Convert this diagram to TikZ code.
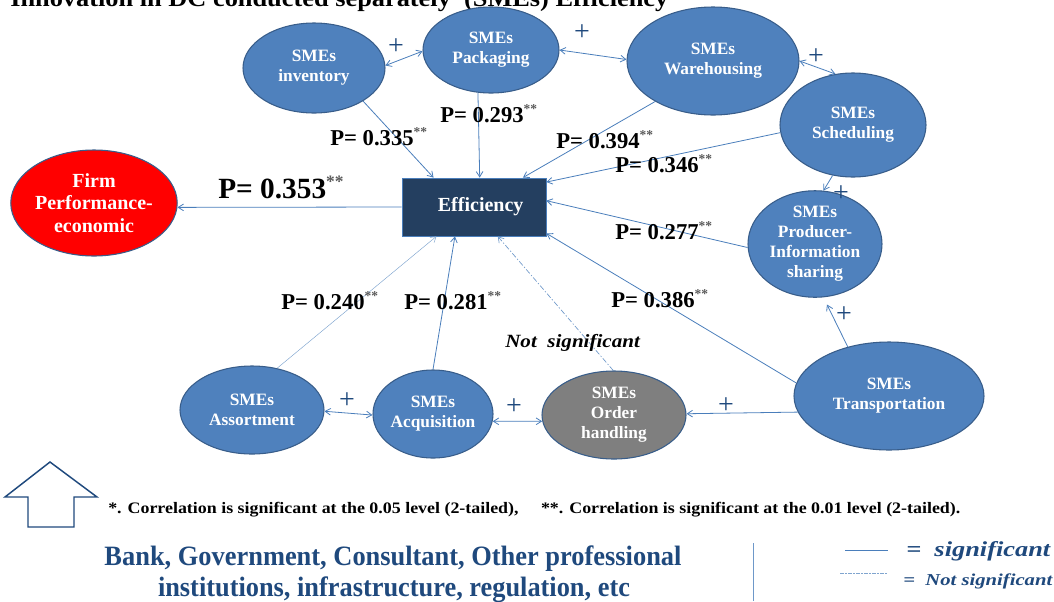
\documentclass[tikz,border=0pt]{standalone}
\usepackage{fontspec}
\setmainfont{Liberation Serif}
\usepackage{graphicx}
\usetikzlibrary{shapes.geometric,arrows.meta}
\definecolor{smefill}{RGB}{79,129,189}
\definecolor{smeedge}{RGB}{56,93,138}
\definecolor{effill}{RGB}{36,63,96}
\definecolor{linkblue}{RGB}{74,126,187}
\definecolor{darkblue}{RGB}{31,73,125}
\definecolor{orderfill}{RGB}{127,127,127}
\newcommand\stars{\textsuperscript{\color{black!65}\scalebox{0.85}{**}}}
\newcommand\fitw[2]{\resizebox{#1}{\height}{#2}}
\begin{document}
\begin{tikzpicture}[x=0.75pt,y=-0.75pt,
  sme/.style={ellipse, draw=smeedge, line width=0.8pt, fill=smefill, text=white,
    font=\bfseries\fontsize{13}{15}\selectfont, align=center, inner sep=0pt},
  sz/.style n args={2}{minimum width=#1*1.5pt, minimum height=#2*1.5pt},
  link/.style={draw=linkblue, line width=0.6pt, -{Straight Barb[length=4pt,width=5pt]}},
  both/.style={draw=linkblue, line width=0.6pt, {Straight Barb[length=4pt,width=5pt]}-{Straight Barb[length=4pt,width=5pt]}},
  pval/.style={anchor=base west, inner sep=0pt, font=\bfseries\fontsize{17}{20}\selectfont},
  plus/.style={text=darkblue, font=\fontsize{21}{21}\selectfont, inner sep=0pt}
]
\useasboundingbox (0,0) rectangle (1054,601);

% heading, cut by the top edge
\node[anchor=base west, inner sep=0pt, font=\bfseries\fontsize{18}{20}\selectfont] (title) at (10,6)
  {\fitw{493.5pt}{Innovation in DC conducted separately\ \ (SMEs) Efficiency}};

% driver nodes
\node[sme, sz={71}{45}] (inv) at (314,68) {SMEs\\inventory};
\node[sme, sz={68}{43}] (pack) at (491,50) {SMEs\\Packaging};
\node[sme, sz={86}{54}] (ware) at (713,61) {SMEs\\Warehousing};
\node[sme, sz={73}{52}] (sched) at (853,125) {SMEs\\Scheduling};
\node[sme, sz={67}{44}] (prod) at (815,244) {SMEs\\Producer-\\Information\\sharing};
\node[sme, sz={95}{54}] (trans) at (889,396) {SMEs\\Transportation};
\node[sme, sz={72}{44}, fill=orderfill] (order) at (614,415) {SMEs\\Order\\handling};
\node[sme, sz={60}{44}] (acq) at (433,414) {SMEs\\Acquisition};
\node[sme, sz={72}{44}] (assort) at (252,410) {SMEs\\Assortment};

% outcome nodes
\node[rectangle, draw=linkblue, line width=0.6pt, fill=effill, text=white,
  minimum width=108pt, minimum height=43.5pt, inner sep=0pt,
  font=\bfseries\fontsize{15}{17}\selectfont] (eff) at (474,207) {\hspace*{10pt}Efficiency};
\node[ellipse, draw=smeedge, line width=0.8pt, fill=red, text=white, align=center, inner sep=0pt,
  sz={81}{53}, font=\bfseries\fontsize{15}{17}\selectfont] (firm) at (94,203) {Firm\\Performance-\\economic};

% links between drivers
\draw[both] (inv.2.5) -- (pack.181);
\draw[both] (pack.0) -- (ware.179);
\draw[both] (ware.0) -- (sched.109);
\draw[link] (sched.-112) -- (prod.81);
\draw[link, shorten >=6pt] (trans.130) -- (prod.-81);
\draw[link] (trans.-170) -- (order.1);
\draw[both] (order.-175) -- (acq.-7);
\draw[both] (acq.181) -- (assort.-1);

\node[plus] (q1) at (396,47) {+};
\node[plus] (q2) at (582,33) {+};
\node[plus] (q3) at (816,57) {+};
\node[plus] (q4) at (841,194) {+};
\node[plus] (q5) at (844,315) {+};
\node[plus] (q6) at (726,406) {+};
\node[plus] (q7) at (514,407) {+};
\node[plus] (q8) at (347,401) {+};

% paths into Efficiency
\draw[link] (inv.-34) -- (eff.144.5);
\draw[link] (pack.-107) -- (eff.79);
\draw[link] (ware.-145) -- (eff.31);
\draw[link] (sched.-174) -- (eff.19);
\draw[link] (prod.-177) -- (eff.5.6);
\draw[link] (trans.172) -- (eff.-20.6);
\draw[link, draw=linkblue!80, line width=0.5pt, dash pattern=on 4pt off 1.5pt on 1pt off 1.5pt] (order.91) -- (eff.-51.6);
\draw[link] (acq.90) -- (eff.-123);
\draw[link, draw=linkblue!70, line width=0.35pt] (assort.59) -- (eff.-142.7);
\draw[link] (eff.west) -- (firm.-3);

% coefficients
\node[pval] (l335) at (330,145) {P= 0.335\stars};
\node[pval] (l293) at (440,122) {P= 0.293\stars};
\node[pval] (l394) at (556,148) {P= 0.394\stars};
\node[pval] (l346) at (615,172) {P= 0.346\stars};
\node[pval] (l277) at (615,239) {P= 0.277\stars};
\node[pval] (l386) at (611,307) {P= 0.386\stars};
\node[pval] (l240) at (281,309) {P= 0.240\stars};
\node[pval] (l281) at (404,309) {P= 0.281\stars};
\node[pval, font=\bfseries\fontsize{22}{24}\selectfont] (l353) at (218,198) {P= 0.353\stars};
\node[anchor=base west, inner sep=0pt, font=\bfseries\itshape\fontsize{14}{16}\selectfont] (ns) at (505,347)
  {\fitw{101pt}{Not\ \ significant}};

% support arrow and footnote
\draw[darkblue, line width=1.1pt, fill=white, line join=miter]
  (50,462) -- (97,497) -- (74,497) -- (74,527) -- (28,527) -- (28,497) -- (5,497) -- cycle;
\node[anchor=base west, inner sep=0pt, font=\bfseries\fontsize{12}{14}\selectfont] (note) at (108,513)
  {\fitw{639pt}{*. Correlation is significant at the 0.05 level (2-tailed),\quad\ **. Correlation is significant at the 0.01 level (2-tailed).}};

\node[anchor=base, inner sep=0pt, text=darkblue, font=\bfseries\fontsize{21}{24}\selectfont] (bank1) at (393,565)
  {\fitw{432.75pt}{Bank, Government, Consultant, Other professional}};
\node[anchor=base, inner sep=0pt, text=darkblue, font=\bfseries\fontsize{21}{24}\selectfont] (bank2) at (394,596)
  {\fitw{354pt}{institutions, infrastructure, regulation, etc}};

% legend
\coordinate (sepA) at (753,543);
\coordinate (sepB) at (753,601);
\draw[linkblue!80, line width=0.5pt] (sepA) -- (sepB);
\coordinate (sigA) at (845,550);
\coordinate (sigB) at (888,550);
\draw[linkblue, line width=0.6pt] (sigA) -- (sigB);
\coordinate (nsA) at (840,573);
\coordinate (nsB) at (888,573);
\draw[linkblue!70, line width=0.5pt, dash pattern=on 3pt off 1pt on 1pt off 1pt] (nsA) -- (nsB);
\node[anchor=base west, inner sep=0pt, text=darkblue, font=\bfseries\itshape\fontsize{16}{18}\selectfont] (sig) at (906,556)
  {\fitw{108pt}{=\ \ significant}};
\node[anchor=base west, inner sep=0pt, text=darkblue, font=\bfseries\itshape\fontsize{12.5}{14}\selectfont] (nsig) at (903,585)
  {\fitw{111.75pt}{=\ \ Not significant}};
\end{tikzpicture}
\end{document}
